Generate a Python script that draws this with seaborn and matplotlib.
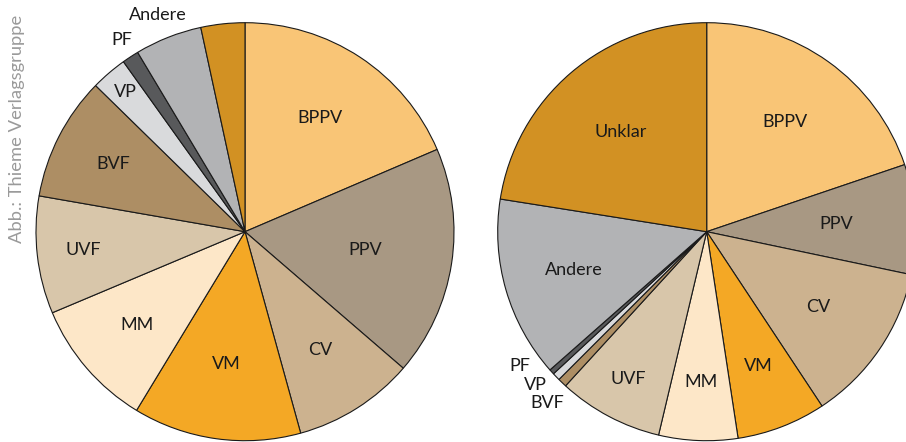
import numpy as np
import matplotlib
matplotlib.use("Agg")
import matplotlib.pyplot as plt
import seaborn as sns

categories = ["BPPV", "PPV", "CV", "VM", "MM", "UVF", "BVF", "VP", "PF", "Andere", "Unklar"]
left_values = [18.6, 17.8, 9.4, 13.0, 10.0, 9.1, 9.6, 2.8, 1.3, 5.2, 3.4]
right_values = [19.8, 8.5, 12.4, 6.9, 6.1, 8.1, 0.7, 0.6, 0.4, 14.0, 22.5]
left_labels = ["BPPV", "PPV", "CV", "VM", "MM", "UVF", "BVF", "VP", "PF", "Andere", ""]
right_labels = ["BPPV", "PPV", "CV", "VM", "MM", "UVF", "BVF", "VP", "PF", "Andere", "Unklar"]
credit = "Abb.: Thieme Verlagsgruppe"

sns.set_theme(style="white")
plt.rcParams["font.family"] = ["Lato", "DejaVu Sans"]

colors = ["#F9C576", "#A89883", "#CCB28F", "#F4A825", "#FDE7C8", "#D8C6AA",
          "#AD8E64", "#D9DADC", "#58595B", "#B2B3B5", "#D29123"]

# label placement: radius factor, optional angle override (deg, math convention)
left_pos = {"BPPV": (0.65, None), "PPV": (0.58, None), "CV": (0.67, None), "VM": (0.64, None),
            "MM": (0.68, None), "UVF": (0.78, None), "BVF": (0.71, None), "VP": (0.88, None),
            "PF": (1.09, 122.7), "Andere": (1.12, 111.9)}
right_pos = {"BPPV": (0.645, None), "PPV": (0.62, None), "CV": (0.645, None), "VM": (0.69, None),
             "MM": (0.72, None), "UVF": (0.80, None), "Andere": (0.66, None), "Unklar": (0.63, None),
             "PF": (1.10, -144.2), "VP": (1.10, -138.1), "BVF": (1.12, -132.9)}

W, H = 906, 442
R = 209.0
LIM = 1.1


def make_ax(fig, cx, cy):
    half = LIM * R
    return fig.add_axes([(cx - half) / W, (H - cy - half) / H, 2 * half / W, 2 * half / H])


def draw(ax, values, labels, pos):
    wedges, _ = ax.pie(values, colors=colors, startangle=90, counterclock=False,
                       wedgeprops=dict(edgecolor="#1a1a1a", linewidth=0.8))
    for w, lab in zip(wedges, labels):
        if not lab:
            continue
        f, ang = pos[lab]
        if ang is None:
            ang = (w.theta1 + w.theta2) / 2.0
        a = np.deg2rad(ang)
        ax.text(f * np.cos(a), f * np.sin(a), lab, ha="center", va="center",
                fontsize=13, color="#1a1a1a")
    ax.set_xlim(-LIM, LIM)
    ax.set_ylim(-LIM, LIM)
    ax.set_aspect("equal")
    ax.axis("off")


fig = plt.figure(figsize=(W / 100, H / 100), dpi=100)
axl = make_ax(fig, 245.0, 231.7)
draw(axl, left_values, left_labels, left_pos)
axr = make_ax(fig, 706.7, 231.7)
draw(axr, right_values, right_labels, right_pos)

fig.text(17 / W, 1 - 128.5 / H, credit, rotation=90, ha="center", va="center",
         fontsize=13.2, color="#9a9a9a")

fig.savefig("out.png", dpi=100)
